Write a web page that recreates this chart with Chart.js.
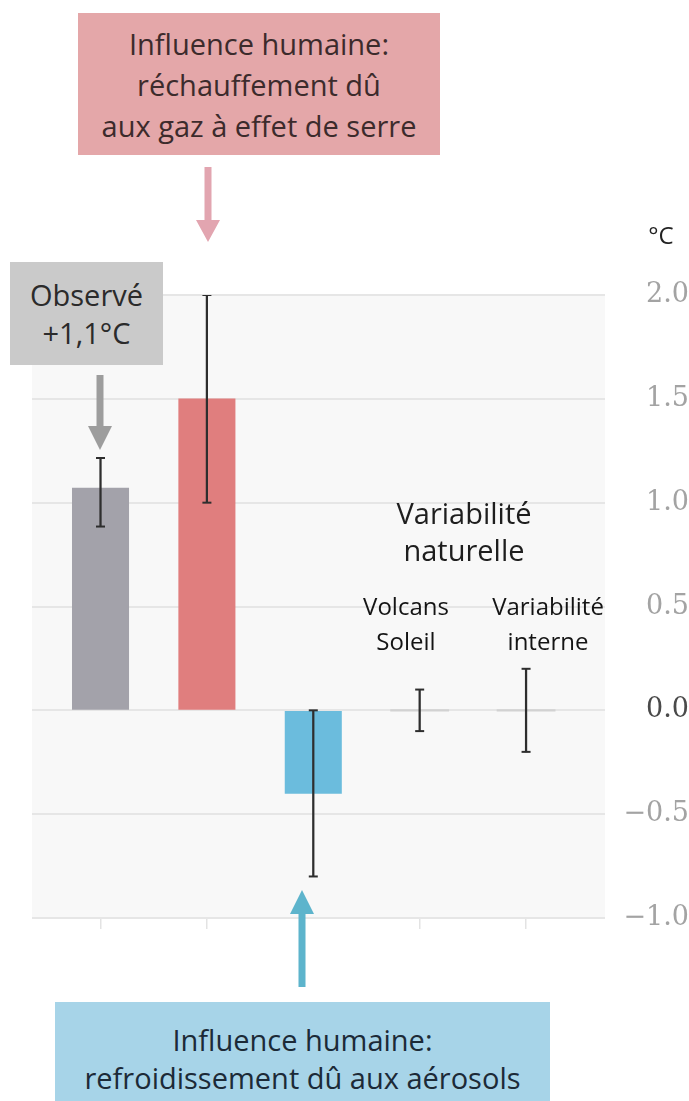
<!DOCTYPE html>
<html>
<head>
<meta charset="utf-8">
<script src="https://cdn.jsdelivr.net/npm/chart.js@4/dist/chart.umd.min.js"></script>
<style>
html,body{margin:0;padding:0;background:#fff;}
#wrap{position:relative;width:689px;height:1101px;overflow:hidden;background:#fff;}
#chartBox{position:absolute;left:0;top:0;width:689px;height:1101px;}
.note{position:absolute;display:flex;flex-direction:column;align-items:center;justify-content:center;text-align:center;font-family:'Open Sans',sans-serif;white-space:nowrap;}
.lbl{position:absolute;text-align:center;font-family:'Open Sans',sans-serif;white-space:nowrap;transform:translateX(-50%);}
svg.arrow{position:absolute;overflow:visible;}
</style>
</head>
<body>
<div id="wrap">
  <div id="chartBox"><canvas id="c"></canvas></div>

  <div class="note" style="left:78px;top:13px;width:362px;height:142px;background:#e4a7a9;color:#3c2b2c;font-size:29px;line-height:41px;">
    <div>Influence humaine:</div><div>réchauffement dû</div><div>aux gaz à effet de serre</div>
  </div>
  <svg class="arrow" style="left:0;top:0;" width="689" height="1101">
    <polygon points="204.5,167 211.5,167 211.5,220 220,220 208,242 196,220 204.5,220" fill="#e2a5b0"/>
    <polygon points="96.5,375 103.5,375 103.5,426 112,426 100,450 88,426 96.5,426" fill="#9d9d9d"/>
    <polygon points="302,890 314,914 305.5,914 305.5,987 298.5,987 298.5,914 290,914" fill="#5db4cc"/>
  </svg>

  <div class="lbl" style="left:661px;top:220px;font-size:24px;line-height:30px;color:#222;">°C</div>

  <div class="note" style="left:10px;top:262px;width:153px;height:103px;background:#cacaca;color:#2b2b2b;font-size:29px;line-height:38px;">
    <div>Observé</div><div>+1,1°C</div>
  </div>

  <div class="lbl" style="left:464px;top:494px;font-size:29px;line-height:37px;color:#1e1e1e;">Variabilité<br>naturelle</div>
  <div class="lbl" style="left:406px;top:588px;font-size:24px;line-height:35px;color:#141414;">Volcans<br>Soleil</div>
  <div class="lbl" style="left:548px;top:588px;font-size:24px;line-height:35px;color:#141414;">Variabilité<br>interne</div>

  <div class="note" style="left:55px;top:1002px;width:495px;height:120px;background:#a7d4e8;color:#1c2a37;font-size:29px;line-height:38px;justify-content:flex-start;padding-top:19px;box-sizing:border-box;">
    <div>Influence humaine:</div><div>refroidissement dû aux aérosols</div>
  </div>
</div>

<script>
// ---- data ----
const categories = ['Observé', 'Gaz à effet de serre', 'Aérosols', 'Volcans, Soleil', 'Variabilité interne'];
const values     = [1.07, 1.5, -0.4, 0, 0];
const errLow     = [0.885, 1.0, -0.8, -0.1, -0.2];
const errHigh    = [1.215, 2.0, 0.0, 0.1, 0.2];
const barColors  = ['#a3a2aa', '#e07e7e', '#6bbcdd', '#d2d2d2', '#d2d2d2'];
const yTicks     = [-1.0, -0.5, 0.0, 0.5, 1.0, 1.5, 2.0];

const bgPlugin = {
  id: 'plotBg',
  beforeDraw(chart) {
    const a = chart.chartArea, ctx = chart.ctx;
    ctx.save();
    ctx.fillStyle = '#f8f8f8';
    ctx.fillRect(a.left, a.top, a.right - a.left, a.bottom - a.top);
    ctx.restore();
  }
};

new Chart(document.getElementById('c'), {
  type: 'bar',
  data: {
    datasets: [
      {
        label: 'Intervalle',
        type: 'bar',
        data: categories.map((c, i) => ({ x: i, y: [errLow[i], errHigh[i]] })),
        backgroundColor: '#2e2e2e',
        barThickness: 1.6,
        grouped: false,
        order: 0
      },
      {
        label: 'Bornes',
        type: 'scatter',
        data: categories.flatMap((c, i) => [{ x: i, y: errLow[i] }, { x: i, y: errHigh[i] }]),
        pointStyle: 'line',
        pointRadius: 4.5,
        borderColor: '#2e2e2e',
        borderWidth: 2,
        showLine: false,
        order: 0
      },
      {
        label: 'Contribution',
        type: 'bar',
        data: categories.map((c, i) => ({ x: i, y: values[i] })),
        backgroundColor: barColors,
        inflateAmount: ctx => (values[ctx.dataIndex] === 0 ? 1.2 : 0.33),
        categoryPercentage: 1,
        barPercentage: 0.53,
        grouped: false,
        order: 1
      }
    ]
  },
  options: {
    responsive: true,
    maintainAspectRatio: false,
    animation: false,
    layout: { padding: { left: 32, top: 295, right: 0, bottom: 171 } },
    plugins: { legend: { display: false }, tooltip: { enabled: false }, title: { display: false } },
    scales: {
      x: {
        type: 'linear',
        offset: false,
        min: -0.644,
        max: 4.742,
        afterBuildTicks: s => { s.ticks = categories.map((c, i) => ({ value: i })); },
        afterFit: s => { s.height = 12; },
        border: { display: false },
        grid: {
          offset: false,
          drawOnChartArea: false,
          drawTicks: true,
          tickLength: 11,
          color: ctx => (ctx.tick && ctx.tick.value === 2) ? 'rgba(0,0,0,0)' : '#e3e3e3',
          lineWidth: 1.5
        },
        ticks: { display: false }
      },
      y: {
        position: 'right',
        min: -1,
        max: 2,
        afterBuildTicks: s => { s.ticks = yTicks.map(v => ({ value: v })); },
        afterFit: s => { s.width = 84; },
        border: { display: false },
        grid: { color: '#e6e6e6', lineWidth: 2, drawTicks: false },
        ticks: {
          crossAlign: 'far',
          padding: 12,
          font: { family: 'DejaVu Serif', size: 27 },
          color: ctx => ctx.tick.value === 0 ? '#4a4a4a' : '#a3a3a3',
          callback: v => (v < 0 ? '\u2212' : '') + Math.abs(v).toFixed(1)
        }
      }
    }
  },
  plugins: [bgPlugin]
});
</script>
</body>
</html>
